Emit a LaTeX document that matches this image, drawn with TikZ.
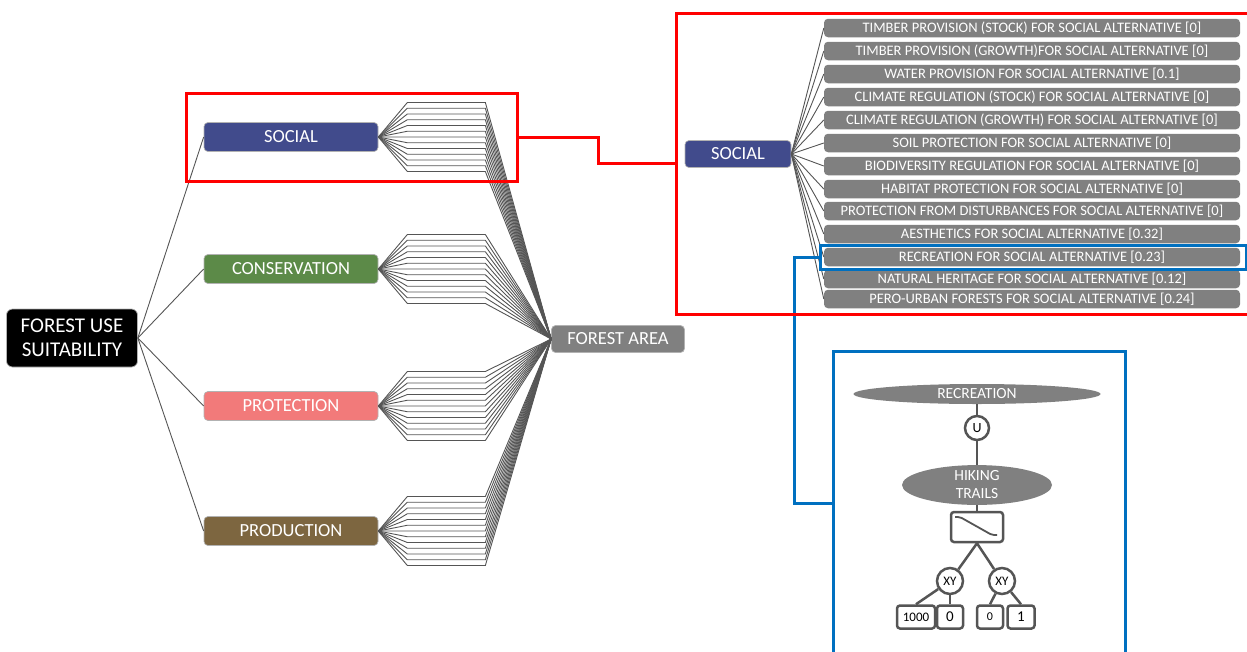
\documentclass[tikz,border=0pt]{standalone}
\usepackage{fontspec}
\setmainfont{Carlito}
\usetikzlibrary{positioning,shapes.geometric}
\definecolor{socblue}{RGB}{65,75,140}
\definecolor{consgreen}{RGB}{92,138,72}
\definecolor{protred}{RGB}{242,122,122}
\definecolor{prodbrown}{RGB}{125,102,64}
\definecolor{boxgray}{RGB}{128,128,128}
\definecolor{linegray}{RGB}{85,85,85}
\definecolor{hiblue}{RGB}{0,112,192}
\tikzset{
  catbox/.style={rounded corners=4pt,draw=gray!60,line width=0.7pt,text=white,inner sep=0pt,
    minimum width=174pt,minimum height=29pt,font=\fontsize{18.5}{20}\selectfont,text height=11.7pt,text depth=0pt},
  itembox/.style={rounded corners=4pt,fill=boxgray,text=white,inner sep=0pt,
    minimum width=416pt,minimum height=18.5pt,font=\fontsize{14.5}{16}\selectfont,text height=9.2pt,text depth=0pt},
  fanline/.style={linegray,line width=0.9pt},
  redframe/.style={draw=red,line width=3pt,inner sep=0pt},
  blueframe/.style={draw=hiblue,line width=3pt,inner sep=0pt},
  treeline/.style={linegray,line width=2.5pt},
  treecirc/.style={circle,draw=linegray,line width=2.5pt,fill=white,inner sep=0pt},
  leafbox/.style={rounded corners=3pt,draw=linegray,line width=2.5pt,fill=white,inner sep=0pt,minimum height=23pt},
  treeell/.style={ellipse,fill=boxgray,text=white,inner sep=0pt}
}
\begin{document}
\begin{tikzpicture}[x=1pt,y=-1pt]
\useasboundingbox (0,0) rectangle (1247,651);
\clip (0,0) rectangle (1247,651);

\node[rounded corners=6pt,fill=black,draw=gray!60,line width=0.7pt,text=white,align=center,inner sep=0pt,
  minimum width=131pt,minimum height=58pt,font=\fontsize{21}{24}\selectfont] (fus) at (72,338) {FOREST USE\\SUITABILITY};
\node[catbox,fill=socblue] (soc) at (291,137) {SOCIAL};
\node[catbox,fill=consgreen] (con) at (291,269) {CONSERVATION};
\node[catbox,fill=protred] (pro) at (291,406) {PROTECTION};
\node[catbox,fill=prodbrown] (prd) at (291,531) {PRODUCTION};
\node[catbox,fill=boxgray,minimum width=133pt,minimum height=27pt] (area) at (618,339) {FOREST AREA};

\foreach \c in {soc,con,pro,prd}{
  \draw[fanline] (fus.east) -- (\c.west);
  \foreach \i in {-6,...,6}
    \draw[fanline] (\c.east) -- ++(29,5.75*\i) -- ++(78,0) -- (area.west);
}

\node[catbox,fill=socblue,minimum width=106pt,minimum height=27pt] (rsoc) at (738,154) {SOCIAL};
\foreach \y/\t [count=\k] in {
  28/{TIMBER PROVISION (STOCK) FOR SOCIAL ALTERNATIVE [0]},
  51/{TIMBER PROVISION (GROWTH)FOR SOCIAL ALTERNATIVE [0]},
  74/{WATER PROVISION FOR SOCIAL ALTERNATIVE [0.1]},
  97/{CLIMATE REGULATION (STOCK) FOR SOCIAL ALTERNATIVE [0]},
  120/{CLIMATE REGULATION (GROWTH) FOR SOCIAL ALTERNATIVE [0]},
  143/{SOIL PROTECTION FOR SOCIAL ALTERNATIVE [0]},
  166/{BIODIVERSITY REGULATION FOR SOCIAL ALTERNATIVE [0]},
  189/{HABITAT PROTECTION FOR SOCIAL ALTERNATIVE [0]},
  211/{PROTECTION FROM DISTURBANCES FOR SOCIAL ALTERNATIVE [0]},
  234/{AESTHETICS FOR SOCIAL ALTERNATIVE [0.32]},
  257/{RECREATION FOR SOCIAL ALTERNATIVE [0.23]},
  279/{NATURAL HERITAGE FOR SOCIAL ALTERNATIVE [0.12]},
  299/{PERO-URBAN FORESTS FOR SOCIAL ALTERNATIVE [0.24]}}{
  \node[itembox] (it\k) at (1032,\y) {\t};
  \draw[fanline] (rsoc.east) -- (it\k.west);
}

\node[treeell,minimum width=247pt,minimum height=20pt,font=\fontsize{15.5}{17}\selectfont] (rec) at (977,394) {RECREATION};
\node[treecirc,minimum size=24pt,font=\fontsize{14}{15}\selectfont] (u) at (977,428) {U};
\node[treeell,minimum width=150pt,minimum height=37pt,align=center,font=\fontsize{15.5}{18}\selectfont] (hike) at (977,485) {HIKING\\TRAILS};
\node[leafbox,minimum width=52pt,minimum height=30pt] (sw) at (977,527) {};
\node[treecirc,minimum size=26pt,font=\fontsize{13}{14}\selectfont] (xy1) at (950,581) {XY};
\node[treecirc,minimum size=26pt,font=\fontsize{13}{14}\selectfont] (xy2) at (1002,581) {XY};
\node[leafbox,minimum width=38pt,font=\fontsize{13}{14}\selectfont] (l1) at (916,617) {1000};
\node[leafbox,minimum width=26pt,font=\fontsize{15}{16}\selectfont] (l2) at (950,617) {0};
\node[leafbox,minimum width=26pt,font=\fontsize{12}{13}\selectfont] (l3) at (990,617) {0};
\node[leafbox,minimum width=27pt,font=\fontsize{15}{16}\selectfont] (l4) at (1021,617) {1};
\draw[treeline] (rec.south) -- (u.north);
\draw[treeline] (u.south) -- (hike.north);
\draw[treeline] (hike.south) -- (sw.north);
\draw[treeline] (sw.south) -- (xy1);
\draw[treeline] (sw.south) -- (xy2);
\draw[treeline] (xy1) -- (l1.north);
\draw[treeline] (xy1) -- (l2.north);
\draw[treeline] (xy2) -- (l3.north);
\draw[treeline] (xy2) -- (l4.north);
\draw[linegray,line width=1.8pt,rounded corners=2pt] (sw.center) ++(-22,-10) -- ++(5,0) -- ++(32,18) -- ++(5,0);

\node[blueframe,minimum width=292pt,minimum height=304pt] (treeframe) at (979,503) {};
\node[blueframe,minimum width=426pt,minimum height=24pt] (recframe) at (1033,257) {};
\draw[hiblue,line width=3pt] (recframe.west) -- ++(-24,0) |- (treeframe.west);

\node[redframe,minimum width=331pt,minimum height=88pt] (sframe) at (351.5,137) {};
\node[redframe,minimum width=584pt,minimum height=301pt] (bigframe) at (968,163.5) {};
\draw[red,line width=3pt] (sframe.east) -- ++(80,0) |- (bigframe.west);
\end{tikzpicture}
\end{document}
